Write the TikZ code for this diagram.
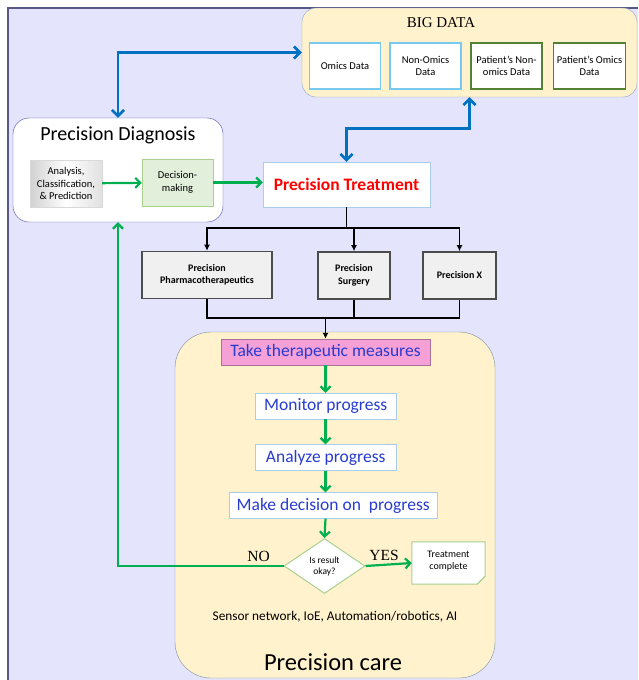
\documentclass[tikz,border=0pt]{standalone}
\usepackage{fontspec}
\setmainfont{Carlito}
\newfontfamily\titleserif{Liberation Serif}
\usetikzlibrary{shapes.geometric,calc,arrows.meta}
\definecolor{lavbg}{RGB}{228,228,252}
\definecolor{cream}{RGB}{255,242,204}
\definecolor{skyline}{RGB}{120,200,240}
\definecolor{leafline}{RGB}{84,130,53}
\definecolor{arrblue}{RGB}{0,112,192}
\definecolor{arrgreen}{RGB}{0,176,80}
\definecolor{txtblue}{RGB}{40,60,210}
\definecolor{pinkfill}{RGB}{245,160,215}
\definecolor{paleblue}{RGB}{170,205,235}
\definecolor{palegreen}{RGB}{226,239,218}
\definecolor{greenline}{RGB}{169,209,142}
\tikzset{
  databox/.style={draw, line width=1.6pt, fill=white, minimum width=71, minimum height=46, align=center, font=\fontsize{10.5}{12.5}\selectfont},
  treatbox/.style={draw=black!70, line width=1.6pt, fill=black!6, align=center, font=\bfseries\fontsize{10}{12.5}\selectfont},
  carebox/.style={draw=paleblue, fill=white, text=txtblue, anchor=west, font=\fontsize{17.5}{20}\selectfont, minimum height=26, inner xsep=5pt},
  bluearr/.style={draw=arrblue, line width=2.6pt, {Straight Barb[length=6pt,width=12pt]}-{Straight Barb[length=6pt,width=12pt]}},
  greenarr/.style={draw=arrgreen, line width=2.2pt, -{Straight Barb[length=5pt,width=10pt]}},
  blackarr/.style={draw=black, line width=1.8pt, -{Latex[length=6pt,width=6pt]}},
  choice/.style={text=black, font=\titleserif\fontsize{15.5}{18}\selectfont}
}
\begin{document}
\begin{tikzpicture}[x=1pt, y=-1pt]
\useasboundingbox (0,0) rectangle (638,680);
\fill[lavbg] (8,8) rectangle (638,680);
\draw[black!40!blue!30!gray, line width=1.5pt] (8,680) -- (8,8) -- (638,8);

\node[draw=paleblue!80!black, fill=cream, rounded corners=14, minimum width=335, minimum height=89] (bigdata) at (469.5,52.5) {};
\node[font=\titleserif\fontsize{15}{17}\selectfont] (bigtitle) at (441,23) {BIG DATA};
\node[databox, draw=skyline] (omics) at (345,66) {Omics Data};
\node[databox, draw=skyline] (nonomics) at (425.5,66) {Non-Omics\\Data};
\node[databox, draw=leafline] (ptnon) at (506.5,66) {Patient's Non-\\omics Data};
\node[databox, draw=leafline] (ptomics) at (589.5,66) {Patient's Omics\\Data};

\node[draw=blue!40!gray, fill=white, rounded corners=16, minimum width=210, minimum height=104] (diag) at (118,170) {};
\node[font=\fontsize{20}{23}\selectfont] (diagtitle) at (118,135) {Precision Diagnosis};
\node[draw=black!15, left color=black!18, right color=black!12, middle color=white, minimum width=72, minimum height=47, inner sep=1pt, align=center, font=\fontsize{10.5}{12.5}\selectfont] (analysis) at (66,183.5) {Analysis,\\Classification,\\\& Prediction};
\node[draw=greenline, fill=palegreen, minimum width=71, minimum height=47, align=center, font=\fontsize{10.5}{12.5}\selectfont] (decide) at (177.5,182.5) {Decision-\\making};

\node[draw=paleblue, fill=white, minimum width=167, minimum height=45, text=red, font=\bfseries\fontsize{17.5}{20}\selectfont] (treat) at (346.5,184.5) {Precision Treatment};

\node[treatbox, minimum width=130, minimum height=47] (pharma) at (207,275) {Precision\\Pharmacotherapeutics};
\node[treatbox, minimum width=72, minimum height=47] (surgery) at (354,275.5) {Precision\\Surgery};
\node[treatbox, minimum width=73, minimum height=47] (precx) at (459.5,275.5) {Precision X};

\node[draw=paleblue!70!black, fill=cream, rounded corners=36, minimum width=320, minimum height=346] (care) at (335,505) {};
\node[draw=pinkfill!70!black, fill=pinkfill, text=txtblue, font=\fontsize{17.5}{20}\selectfont, minimum width=209, minimum height=26] (measures) at (325.5,352) {Take therapeutic measures};
\node[carebox, minimum width=141] (monitor) at (255,406) {Monitor progress};
\node[carebox, minimum width=141] (analyze) at (255,457.5) {Analyze progress};
\node[carebox, minimum width=208] (makedec) at (229,505.5) {Make decision on\ \ progress};
\node[diamond, draw=greenline, fill=white, line width=1pt, minimum width=81, minimum height=55, inner sep=0pt, align=center, font=\fontsize{9.5}{11}\selectfont] (okay) at (324.5,566) {Is result\\okay?};
\node[minimum width=73, minimum height=42] (done) at (448.5,563) {};
\draw[greenline, line width=1pt, fill=white] (done.north west) -- (done.north east) -- ($(done.south east)+(0,-8)$) -- ($(done.south east)+(-8,0)$) -- (done.south west) -- cycle;
\draw[greenline, line width=0.8pt] ($(done.south east)+(0,-8)$) -- ($(done.south east)+(-6,-2)$) -- ($(done.south east)+(-8,0)$);
\node[align=center, font=\fontsize{10}{12}\selectfont] (donetext) at (448.5,561) {Treatment\\complete};
\node[font=\fontsize{13.3}{16}\selectfont] (tools) at (335,617) {Sensor network, IoE, Automation/robotics, AI};
\node[font=\fontsize{24.5}{28}\selectfont] (caretitle) at (333,662) {Precision care};

\draw[bluearr] (diag.north) |- (bigdata.west);
\draw[bluearr] (bigdata.south) -- ++(0,31) -| (treat.north);

\draw[greenarr] (analysis) -- (decide);
\draw[greenarr] (decide.east) -- (treat.west |- decide.east);

\draw[blackarr] (treat.south) -- ++(0,21) -| (pharma.north);
\draw[blackarr] (treat.south) -- ++(0,21) -| (surgery.north);
\draw[blackarr] (treat.south) -- ++(0,21) -| (precx.north);
\coordinate (merge) at (measures.north |- 0,318);
\draw[line width=1.8pt] (pharma.south) |- (merge) -| (precx.south);
\draw[line width=1.8pt] (surgery.south) -- (surgery.south |- merge);
\draw[blackarr] (merge) -- (measures.north);

\draw[greenarr] (measures.south) -- (monitor.north -| measures.south);
\draw[greenarr] (monitor.south -| measures.south) -- (analyze.north -| measures.south);
\draw[greenarr] (analyze.south -| measures.south) -- (makedec.north -| measures.south);
\draw[greenarr] (makedec.south -| measures.south) -- (okay.north);
\draw[greenarr] (okay.west) -| node[pos=0.075, above, choice] {NO} (diag.south);
\draw[greenarr] (okay.east) -- node[above, pos=0.4, choice] {YES} (done.west);
\end{tikzpicture}
\end{document}
